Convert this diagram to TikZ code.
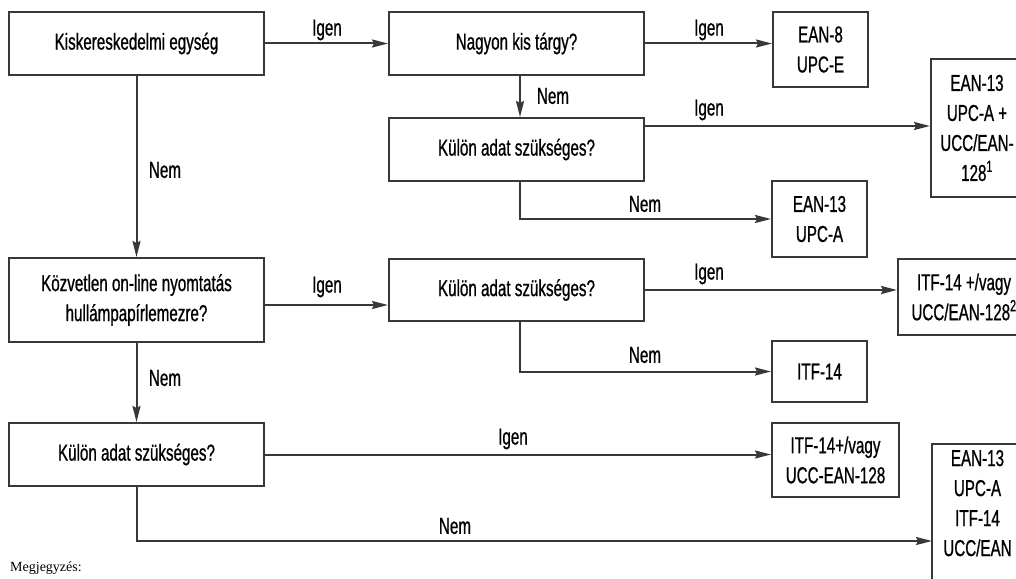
\documentclass[tikz,border=0pt]{standalone}
\usepackage{fontspec}
\setmainfont[FakeStretch=0.66,FakeBold=0.8]{Liberation Sans}
\newfontfamily\notefont{Liberation Serif}
\usetikzlibrary{arrows.meta}
\tikzset{
  box/.style={draw=black!78, line width=2pt, rectangle, inner sep=0pt, align=center,
    font=\fontsize{23}{30}\selectfont},
  conn/.style={draw=black!78, line width=2pt},
  arr/.style={conn, -{Stealth[length=16pt,width=8pt,inset=2pt]}},
  lbl/.style={font=\fontsize{23}{26}\selectfont, inner sep=0pt}
}
\begin{document}
\begin{tikzpicture}[x=1pt,y=-1pt]
\useasboundingbox (0,0) rectangle (1016,578);
\clip (0,0) rectangle (1016,578);
% boxes
\node[box, minimum width=255, minimum height=63] (A) at (136.5,43.5) {Kiskereskedelmi egység};
\node[box, minimum width=255, minimum height=63] (B) at (516.5,43.5) {Nagyon kis tárgy?};
\node[box, minimum width=95, minimum height=75] (C) at (820.5,49.5) {EAN-8\\UPC-E};
\node[box, minimum width=255, minimum height=63] (D) at (516.5,149.5) {Külön adat szükséges?};
\node[box, minimum width=92, minimum height=138] (E) at (977,128) {EAN-13\\UPC-A +\\UCC/EAN-\\128\textsuperscript{1}};
\node[box, minimum width=95, minimum height=76] (F) at (819.5,219) {EAN-13\\UPC-A};
\node[box, minimum width=255, minimum height=84] (G) at (136.5,300) {Közvetlen on-line nyomtatás\\hullámpapírlemezre?};
\node[box, minimum width=255, minimum height=62] (H) at (516.5,290) {Külön adat szükséges?};
\node[box, minimum width=132, minimum height=76] (I) at (964,297) {ITF-14 +/vagy\\UCC/EAN-128\textsuperscript{2}};
\node[box, minimum width=95, minimum height=61] (J) at (819.5,371.5) {ITF-14};
\node[box, minimum width=255, minimum height=63] (K) at (136.5,454.5) {Külön adat szükséges?};
\node[box, minimum width=127, minimum height=74] (L) at (835.5,460) {ITF-14+/vagy\\UCC-EAN-128};
\node[box, minimum width=91, minimum height=170, anchor=north] (M) at (977.5,443) {};
\node[box, draw=none, anchor=north] (Mt) at (977.5,449) {EAN-13\\UPC-A\\ITF-14\\UCC/EAN};
% connectors
\draw[arr] (A.east) -- (B.west);
\draw[arr] (B.east) -- (B.east -| C.west);
\draw[arr] ([xshift=3.5pt]B.south) -- ([xshift=3.5pt]D.north);
\draw[arr] ([yshift=23.5pt]D.east) -- ([yshift=23.5pt]D.east -| E.west);
\draw[arr] ([xshift=3.5pt]D.south) |- (F.west);
\draw[arr] (A.south) -- (G.north);
\draw[arr] ([yshift=-5pt]G.east) -- ([yshift=-5pt]G.east -| H.west);
\draw[arr] (H.east) -- (H.east -| I.west);
\draw[arr] ([xshift=3.5pt]H.south) |- (J.west);
\draw[arr] (G.south) -- (K.north);
\draw[arr] (K.east) -- (K.east -| L.west);
\coordinate (Min) at (932,541);
\draw[arr] (K.south) |- (Min);
% labels
\node[lbl] (l1) at (327,30) {Igen};
\node[lbl] (l2) at (709,30) {Igen};
\node[lbl] (l3) at (553,96) {Nem};
\node[lbl] (l4) at (709,110) {Igen};
\node[lbl] (l5) at (645,204) {Nem};
\node[lbl] (l6) at (165,170) {Nem};
\node[lbl] (l7) at (327,287) {Igen};
\node[lbl] (l8) at (709,274) {Igen};
\node[lbl] (l9) at (645,355) {Nem};
\node[lbl] (l10) at (165,378) {Nem};
\node[lbl] (l11) at (513,439) {Igen};
\node[lbl] (l12) at (455,526) {Nem};
\node[anchor=south west, inner sep=0pt, font=\notefont\fontsize{14}{16}\selectfont] (note) at (10,575) {Megjegyzés:};
\end{tikzpicture}
\end{document}
